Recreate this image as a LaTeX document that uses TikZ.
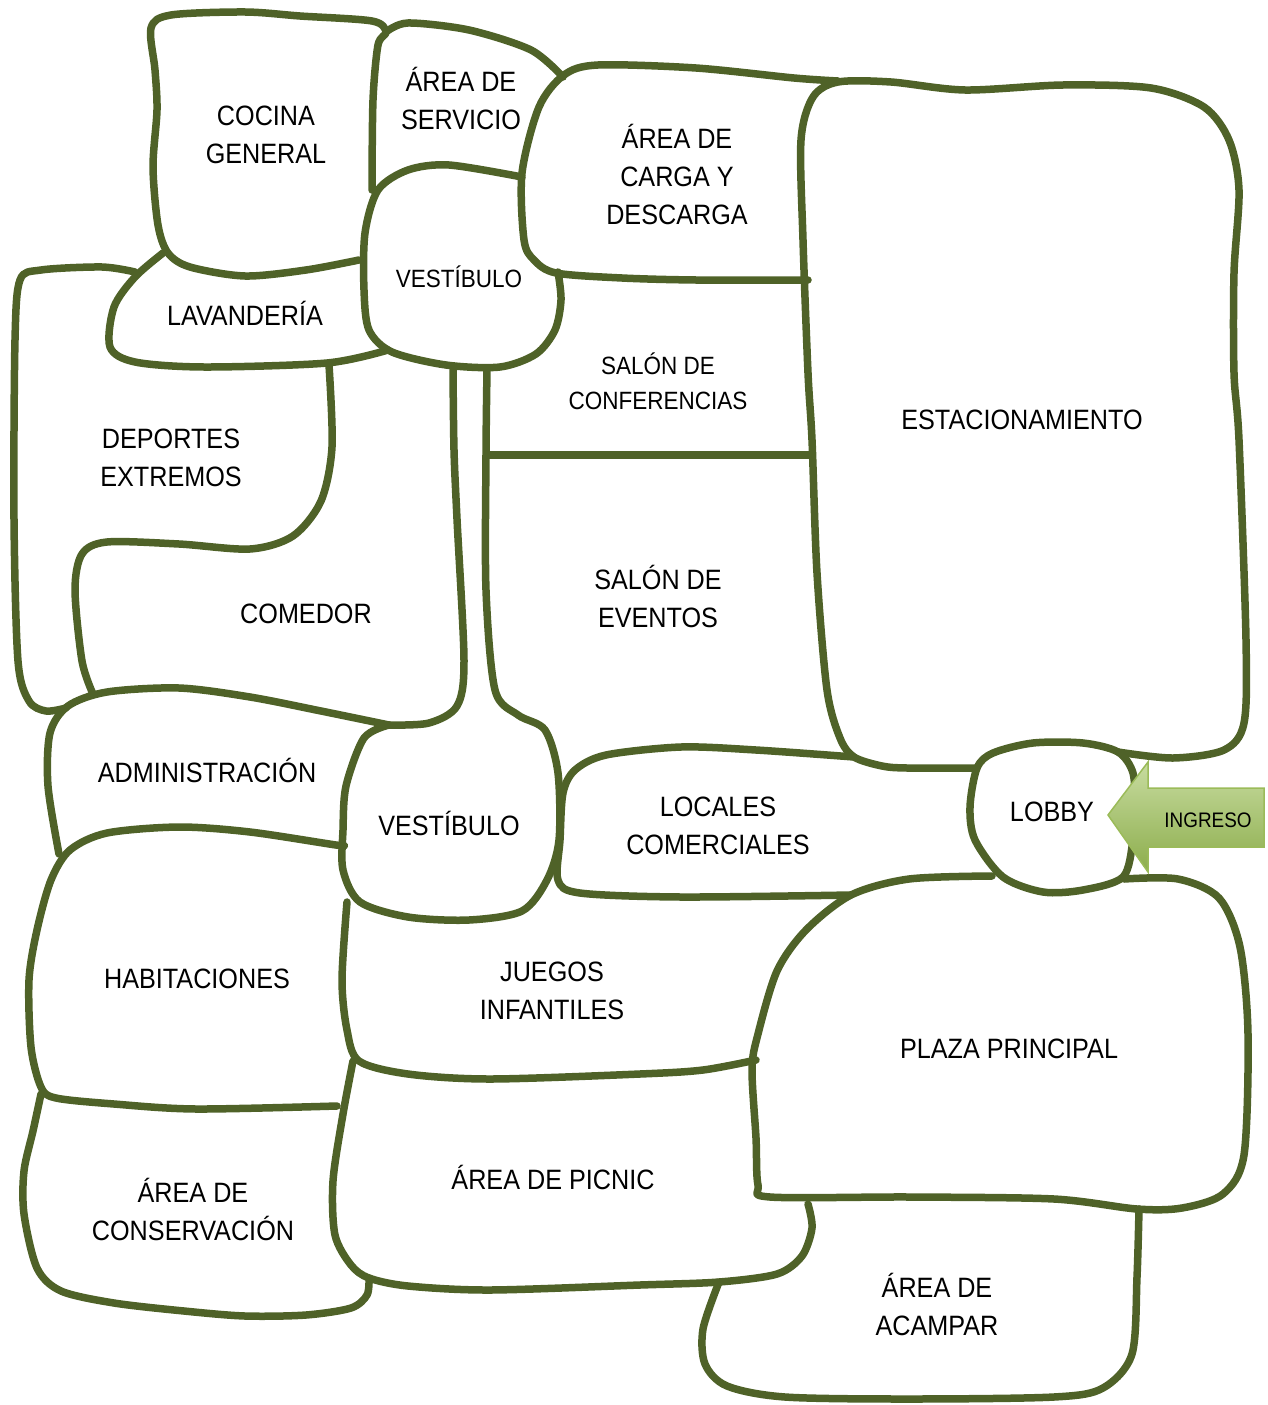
\documentclass[tikz,border=0pt]{standalone}
\usepackage{fontspec}
\setmainfont[FakeStretch=0.9]{Liberation Sans}
\definecolor{wallgreen}{HTML}{4F6228}
\definecolor{leaf}{HTML}{9BBB59}
\definecolor{leaflight}{HTML}{C8DCA0}
\definecolor{leafdark}{HTML}{8CAD4C}

\begin{document}
\begin{tikzpicture}[x=1pt, y=-1pt,
  wall/.style={draw=wallgreen, line width=7.5pt, line cap=round, line join=round},
  room/.style={align=center, inner sep=0pt, font=\fontsize{28}{38}\selectfont},
  smallroom/.style={room, font=\fontsize{25}{35}\selectfont},
  tag/.style={inner sep=0pt, font=\fontsize{21}{24}\selectfont}]
  \useasboundingbox (0,0) rectangle (1267,1405);
  % upper block: kitchen, service, loading
  \draw[wall] plot[smooth] coordinates {(372,190) (373,100) (378,45) (386,32) (372,21) (300,16) (245,12) (171,15) (151,28) (155,70) (157,110) (153,167) (158,225) (168,253) (190,267) (245,276) (306,270) (359,260)};
  \draw[wall] plot[smooth] coordinates {(386,32) (408,23) (469,30) (531,50) (563,77)};
  \draw[wall] plot[smooth] coordinates {(522,177) (449,165) (408,170) (378,190) (365,233) (364,290) (369,330) (392,352) (446,365) (500,367) (536,354) (555,330) (561,300) (558,272)};
  \draw[wall] plot[smooth] coordinates {(808,280) (696,280) (622,278) (556,273) (534,260) (524,240) (522,173) (539,107) (564,75) (598,65) (696,68) (794,78) (838,81)};
  % parking
  \draw[wall] plot[smooth] coordinates {(977,768) (907,768) (882,766) (854,757) (840,738) (827,690) (817,573) (812,440) (808,373) (803,240) (801,140) (813,97) (838,82) (891,82) (965,90) (1063,85) (1151,88) (1204,107) (1229,140) (1239,190) (1234,273) (1234,373) (1239,440) (1246,640) (1244,723) (1224,750) (1173,758) (1118,752)};
  \draw[wall] (487,455) -- (811,455);
  % corridor and lower hall
  \draw[wall] plot[smooth] coordinates {(453,370) (454,450) (457,519) (464,661) (457,706) (429,723) (389,725)};
  \draw[wall] plot[smooth] coordinates {(487,370) (486,454) (486,590) (495,690) (518,715) (545,730) (558,773) (559,840) (547,880) (522,911) (469,920) (408,917) (360,902) (343,870) (343,830) (346,786) (364,738) (389,725)};
  % left wing
  \draw[wall] plot[smooth] coordinates {(163,253) (135,277) (114,307) (110,347) (135,362) (204,367) (327,363) (388,350)};
  \draw[wall] plot[smooth] coordinates {(135,272) (102,267) (41,270) (20,280) (15,340) (14,519) (18,661) (29,701) (46,711) (66,708)};
  \draw[wall] plot[smooth] coordinates {(329,365) (332,447) (321,501) (293,536) (250,549) (179,544) (107,542) (82,554) (75,590) (82,661) (93,694)};
  \draw[wall] plot[smooth] coordinates {(59,854) (48,786) (50,733) (68,706) (107,692) (179,688) (250,697) (321,711) (389,725)};
  \draw[wall] plot[smooth] coordinates {(343,845) (336,845) (250,832) (179,827) (107,833) (70,850) (51,880) (37,930) (29,980) (31,1047) (41,1087) (56,1098) (114,1104) (196,1109) (337,1106)};
  % shops, lobby, plaza
  \draw[wall] plot[smooth] coordinates {(854,757) (756,750) (681,747) (606,755) (575,770) (563,793) (560,840) (558,880) (580,893) (681,897) (851,895)};
  \draw[wall] plot[smooth cycle] coordinates {(977,768) (993,753) (1033,743) (1083,743) (1118,752) (1133,773) (1135,810) (1133,840) (1123,877) (1083,890) (1043,892) (1003,877) (975,840) (970,807)};
  \draw[wall] plot[smooth] coordinates {(992,876) (909,879) (851,895) (806,930) (777,971) (758,1034) (752,1069) (756,1138) (758,1185) (770,1197) (909,1197) (1054,1199) (1137,1209) (1182,1208) (1223,1194) (1244,1155) (1248,1034) (1240,947) (1219,898) (1178,879) (1124,879)};
  % games, picnic, conservation, camping
  \draw[wall] plot[smooth] coordinates {(347,902) (342,980) (347,1030) (359,1061) (408,1074) (490,1079) (640,1074) (703,1070) (756,1060)};
  \draw[wall] plot[smooth] coordinates {(353,1061) (343,1114) (333,1181) (335,1235) (351,1265) (369,1278) (408,1286) (490,1290) (640,1285) (719,1282) (777,1274) (802,1256) (812,1228) (808,1204)};
  \draw[wall] plot[smooth] coordinates {(369,1278) (367,1295) (351,1308) (306,1315) (245,1316) (184,1311) (114,1303) (61,1291) (37,1268) (24,1214) (24,1171) (33,1131) (41,1094)};
  \draw[wall] plot[smooth] coordinates {(719,1282) (703,1329) (705,1364) (727,1386) (785,1397) (909,1399) (1054,1397) (1103,1388) (1132,1354) (1137,1277) (1139,1209)};
  % entrance arrow
  \draw[leaf, line width=1.5pt, top color=leaflight, bottom color=leafdark]
    (1108,815) -- (1148,762) -- (1148,788) -- (1264,788) -- (1264,847) -- (1148,847) -- (1148,872) -- cycle;
  \node[tag] (ingreso) at (1208,820) {INGRESO};
  % room labels
  \node[room] (cocina) at (266,135) {COCINA\\GENERAL};
  \node[room] (servicio) at (461,98) {ÁREA DE\\SERVICIO};
  \node[room] (carga) at (677,174) {ÁREA DE\\CARGA Y\\DESCARGA};
  \node[smallroom] (vest1) at (459,277) {VESTÍBULO};
  \node[room] (lavanderia) at (245,313) {LAVANDERÍA};
  \node[smallroom] (conferencias) at (658,381) {SALÓN DE\\CONFERENCIAS};
  \node[room] (estacionamiento) at (1022,420) {ESTACIONAMIENTO};
  \node[room] (deportes) at (171,458) {DEPORTES\\EXTREMOS};
  \node[room] (comedor) at (306,614) {COMEDOR};
  \node[room] (eventos) at (658,596) {SALÓN DE\\EVENTOS};
  \node[room] (admin) at (207,770) {ADMINISTRACIÓN};
  \node[room] (vest2) at (449,823) {VESTÍBULO};
  \node[room] (locales) at (718,826) {LOCALES\\COMERCIALES};
  \node[room] (lobby) at (1052,812) {LOBBY};
  \node[room] (habitaciones) at (197,979) {HABITACIONES};
  \node[room] (juegos) at (552,991) {JUEGOS\\INFANTILES};
  \node[room] (plaza) at (1009,1049) {PLAZA PRINCIPAL};
  \node[room] (picnic) at (553,1177) {ÁREA DE PICNIC};
  \node[room] (conservacion) at (193,1209) {ÁREA DE\\CONSERVACIÓN};
  \node[room] (acampar) at (937,1304) {ÁREA DE\\ACAMPAR};
\end{tikzpicture}
\end{document}
